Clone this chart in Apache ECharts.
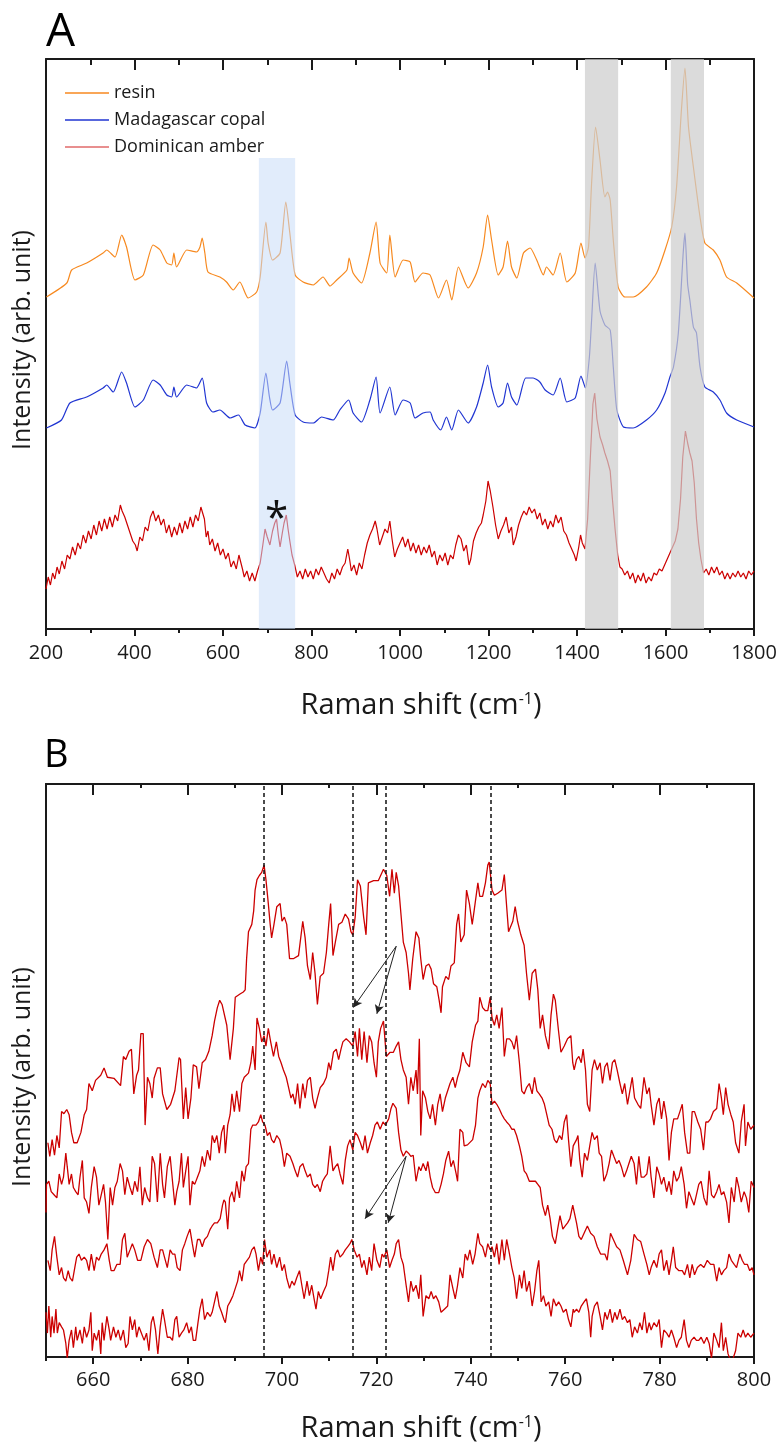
<!DOCTYPE html>
<html>
<head>
<meta charset="utf-8">
<script src="https://cdn.jsdelivr.net/npm/echarts@6/dist/echarts.min.js"></script>
<style>
  html, body { margin: 0; padding: 0; background: #fff; }
  #chart { width: 782px; height: 1443px; }
</style>
</head>
<body>
<div id="chart"></div>
<script>
// ---- panel A : [Raman shift (cm-1), intensity (arb. unit, offset)]
var resin = [[201,332],[247,346],[258,359],[292,366],[329,376],[337,379],[356,372],[371,394],[382,382],[401,349],[420,354],[442,384],[458,379],[473,366],[484,364],[489,376],[495,362],[518,379],[540,377],[548,382],[553,391],[559,376],[566,357],[593,352],[608,347],[623,339],[638,347],[657,331],[676,337],[684,352],[697,407],[702,386],[712,369],[729,376],[742,427],[751,396],[763,354],[781,347],[804,344],[826,352],[842,343],[857,349],[880,359],[885,371],[894,356],[913,346],[932,376],[946,407],[955,366],[970,356],[977,394],[989,352],[1007,369],[1023,367],[1034,347],[1052,356],[1068,354],[1087,331],[1105,349],[1117,329],[1132,362],[1154,341],[1173,356],[1188,382],[1198,414],[1207,389],[1222,354],[1233,362],[1243,388],[1252,362],[1264,351],[1279,376],[1294,381],[1309,369],[1324,354],[1331,362],[1346,354],[1362,376],[1377,347],[1396,356],[1409,386],[1418,371],[1426,382],[1433,446],[1442,502],[1452,469],[1463,432],[1469,437],[1475,429],[1482,389],[1493,342],[1508,332],[1527,332],[1557,342],[1580,356],[1599,379],[1614,402],[1625,442],[1636,519],[1644,561],[1652,502],[1663,462],[1678,412],[1689,386],[1708,379],[1723,369],[1738,352],[1761,346],[1800,331]];
var copal = [[201,201],[235,209],[254,226],[292,232],[329,241],[337,244],[352,237],[371,257],[382,246],[401,222],[420,229],[442,249],[458,244],[473,234],[484,232],[489,242],[495,232],[518,244],[540,241],[553,251],[563,226],[577,217],[593,219],[616,211],[635,214],[650,204],[672,201],[684,216],[697,256],[705,232],[712,219],[729,226],[744,268],[751,246],[763,214],[781,207],[804,206],[823,212],[849,209],[864,219],[884,229],[894,216],[913,207],[932,229],[946,252],[955,216],[977,242],[989,214],[1007,229],[1023,226],[1034,211],[1052,216],[1068,217],[1075,209],[1092,199],[1105,212],[1117,199],[1132,219],[1154,206],[1173,222],[1188,246],[1198,264],[1207,242],[1222,222],[1233,226],[1243,246],[1252,232],[1264,224],[1284,251],[1301,251],[1316,247],[1328,239],[1346,234],[1362,251],[1377,227],[1396,231],[1409,253],[1419,241],[1428,272],[1433,309],[1441,366],[1452,318],[1463,304],[1475,299],[1482,262],[1490,219],[1505,202],[1527,201],[1557,209],[1580,219],[1599,236],[1610,252],[1618,262],[1629,296],[1640,376],[1644,396],[1650,345],[1655,329],[1663,302],[1670,296],[1678,262],[1689,242],[1708,237],[1723,229],[1738,216],[1761,209],[1800,202]];
var amber = [[200,40],[205,52],[210,44],[215,56],[220,50],[225,62],[230,55],[236,68],[242,60],[248,74],[254,70],[260,82],[266,74],[272,86],[278,80],[284,94],[290,86],[296,98],[302,90],[308,104],[314,94],[320,108],[326,98],[332,110],[338,100],[344,112],[350,102],[356,114],[362,108],[368,124],[372,118],[378,112],[384,104],[390,96],[396,88],[402,84],[406,78],[412,92],[418,88],[424,102],[430,98],[436,112],[442,118],[448,108],[454,114],[460,104],[466,110],[472,96],[478,104],[484,92],[490,102],[496,94],[502,106],[508,96],[514,108],[520,100],[526,112],[532,102],[538,114],[544,108],[550,122],[554,124],[558,110],[562,92],[566,98],[570,84],[576,90],[582,78],[588,86],[594,74],[600,80],[606,70],[612,76],[618,62],[624,68],[630,60],[636,74],[640,76],[644,60],[648,52],[654,58],[660,48],[666,56],[672,48],[678,58],[684,66],[690,84],[695,100],[700,92],[706,84],[712,98],[717,106],[721,110],[725,94],[729,82],[734,96],[738,106],[743,114],[747,100],[751,88],[756,74],[762,64],[768,52],[774,58],[780,50],[786,60],[792,52],[798,58],[804,50],[810,60],[816,54],[822,62],[828,56],[834,50],[840,46],[846,56],[852,50],[858,60],[864,54],[870,62],[876,66],[882,80],[886,70],[890,58],[896,64],[902,54],[908,66],[914,60],[920,74],[926,86],[932,94],[938,100],[944,108],[948,100],[954,84],[960,92],[966,100],[972,96],[977,108],[982,90],[988,72],[994,80],[1000,86],[1006,92],[1012,82],[1018,90],[1024,78],[1030,86],[1036,76],[1042,84],[1048,74],[1054,82],[1060,76],[1066,84],[1072,72],[1078,78],[1084,64],[1090,74],[1096,68],[1102,76],[1108,64],[1114,74],[1120,70],[1126,84],[1132,94],[1138,90],[1144,78],[1150,84],[1156,64],[1160,70],[1166,88],[1172,96],[1178,102],[1184,106],[1188,114],[1194,128],[1199,148],[1204,138],[1210,122],[1216,104],[1222,90],[1228,98],[1234,104],[1240,112],[1246,96],[1252,102],[1256,84],[1262,92],[1268,104],[1274,112],[1280,118],[1286,114],[1292,122],[1298,116],[1304,120],[1310,110],[1316,116],[1322,104],[1328,110],[1334,100],[1340,108],[1346,102],[1352,114],[1358,106],[1364,112],[1370,98],[1376,94],[1382,86],[1388,80],[1394,74],[1398,68],[1404,82],[1408,94],[1412,86],[1418,80],[1424,110],[1430,170],[1436,225],[1440,236],[1445,210],[1452,192],[1458,184],[1463,176],[1469,168],[1475,158],[1480,130],[1486,100],[1492,74],[1497,62],[1502,60],[1508,54],[1514,58],[1520,50],[1526,56],[1532,46],[1538,54],[1544,48],[1550,56],[1556,46],[1562,52],[1568,48],[1574,56],[1580,54],[1586,60],[1592,58],[1598,64],[1604,70],[1610,76],[1616,82],[1622,88],[1628,100],[1634,130],[1639,172],[1645,198],[1650,186],[1655,176],[1660,168],[1665,146],[1670,110],[1675,86],[1680,70],[1686,56],[1692,60],[1698,54],[1704,62],[1710,56],[1716,62],[1722,54],[1728,58],[1734,50],[1740,56],[1746,50],[1752,56],[1758,52],[1764,58],[1770,52],[1776,56],[1782,50],[1788,58],[1794,54],[1800,58]];

// ---- panel B : Dominican amber, four spectra, 650-800 cm-1
var spot1 = [[650.4,227],[650.8,214],[651.3,230],[651.8,215],[652.3,234],[652.8,222],[653.3,257],[653.8,255],[654.4,259],[654.9,254],[655.4,237],[655.9,227],[656.6,227],[657.4,237],[658.1,254],[658.6,259],[659.1,284],[659.8,277],[660.5,287],[661.6,292],[662.3,299],[663.0,290],[664.4,289],[665.8,282],[666.4,310],[666.9,307],[667.6,315],[668.1,317],[668.6,274],[669.2,292],[669.6,297],[670.1,332],[670.6,332],[671.0,244],[671.5,290],[672.0,284],[672.5,270],[672.9,289],[673.6,299],[674.2,299],[674.7,274],[675.6,259],[676.4,264],[677.3,277],[678.2,309],[678.5,307],[679.1,250],[679.6,280],[680.1,250],[680.7,270],[681.2,302],[681.9,300],[682.4,279],[683.1,304],[683.8,307],[684.5,315],[685.2,330],[685.7,344],[686.3,357],[686.8,364],[687.3,360],[687.6,360],[688.3,340],[689.0,307],[689.7,337],[690.1,367],[691.1,370],[691.8,372],[692.2,374],[692.5,404],[692.9,430],[693.6,437],[694.0,450],[694.3,470],[694.7,480],[695.2,484],[695.7,487],[696.2,494],[696.6,480],[697.1,457],[697.5,437],[697.8,424],[698.3,437],[698.9,454],[699.6,457],[700.0,440],[700.5,444],[701.0,437],[701.6,404],[702.4,404],[703.5,407],[704.4,440],[704.9,424],[705.4,397],[706.0,384],[706.5,410],[707.0,390],[707.5,360],[708.1,387],[708.8,390],[709.4,410],[709.9,437],[710.3,457],[710.8,407],[711.3,420],[712.0,437],[712.7,439],[713.4,447],[714.1,442],[714.6,430],[715.0,427],[715.5,444],[716.0,480],[716.6,474],[717.3,444],[717.8,427],[718.3,477],[719.4,479],[720.4,479],[721.5,490],[722.2,484],[722.8,464],[723.3,490],[723.8,467],[724.2,487],[724.7,474],[725.2,447],[725.7,420],[726.3,410],[726.8,390],[727.1,374],[727.7,404],[728.4,430],[729.0,424],[729.4,404],[729.9,384],[730.5,397],[731.1,399],[731.6,394],[732.1,380],[732.8,377],[733.3,364],[733.7,352],[734.0,377],[734.7,387],[735.3,384],[735.8,397],[736.5,400],[737.0,437],[737.4,447],[737.9,420],[738.6,427],[739.1,470],[739.7,457],[740.3,437],[740.7,450],[741.5,477],[741.9,464],[742.5,464],[743.1,477],[743.6,494],[743.9,497],[744.5,470],[745.0,465],[745.7,467],[746.6,470],[747.1,485],[747.6,454],[748.0,430],[748.9,440],[749.4,454],[749.9,440],[750.6,427],[751.3,417],[751.8,390],[752.4,364],[753.0,390],[753.7,394],[754.2,374],[754.7,337],[755.2,350],[755.8,330],[756.5,317],[757.0,350],[757.5,370],[757.9,364],[758.6,334],[759.1,314],[759.8,320],[760.5,327],[761.2,330],[761.6,304],[761.9,297],[762.4,307],[762.9,310],[763.4,304],[763.8,317],[764.3,297],[764.7,264],[765.2,257],[765.7,297],[766.2,307],[766.8,297],[767.4,304],[767.9,284],[768.4,300],[768.9,304],[769.5,287],[770.0,304],[770.5,307],[771.0,297],[771.6,284],[772.1,274],[772.6,284],[773.2,264],[773.7,277],[774.2,290],[774.7,270],[775.4,264],[776.0,260],[776.7,290],[777.3,274],[777.8,280],[778.2,264],[778.8,244],[779.4,264],[779.9,270],[780.4,250],[780.9,267],[781.5,250],[782.0,210],[782.5,237],[783.0,250],[783.8,250],[784.3,257],[784.8,264],[785.3,237],[785.9,217],[786.4,217],[786.9,257],[787.4,257],[788.1,247],[788.7,240],[789.3,220],[789.8,247],[790.3,247],[790.8,250],[791.4,257],[792.1,260],[792.6,284],[793.1,270],[793.5,254],[794.0,280],[794.5,264],[795.1,254],[795.6,247],[796.1,227],[796.8,217],[797.3,247],[797.9,264],[798.2,224],[798.7,247],[799.3,240],[800.0,244]];
var spot2 = [[650.0,160],[650.1,187],[650.6,190],[651.1,180],[651.7,177],[652.3,174],[652.8,197],[653.3,187],[653.7,194],[654.2,217],[654.5,204],[654.9,187],[655.4,197],[655.8,184],[656.3,180],[656.8,177],[657.2,194],[657.7,210],[658.1,174],[658.6,170],[659.1,159],[659.6,184],[660.2,204],[660.7,194],[661.2,167],[661.7,177],[662.2,187],[662.6,170],[663.1,134],[663.6,184],[664.1,167],[664.6,184],[665.1,190],[665.7,207],[666.2,200],[666.7,177],[667.2,194],[667.8,184],[668.3,177],[668.8,190],[669.4,180],[669.9,204],[670.4,167],[670.9,184],[671.5,174],[672.0,170],[672.5,214],[673.0,207],[673.6,170],[674.2,217],[674.7,187],[675.1,174],[675.7,204],[676.3,214],[676.8,190],[677.3,167],[677.7,180],[678.2,190],[678.7,217],[679.1,184],[679.6,200],[680.1,214],[680.5,167],[681.0,190],[681.5,187],[682.1,194],[682.6,200],[683.1,214],[683.6,204],[684.2,220],[684.8,210],[685.2,234],[685.7,227],[686.2,234],[686.7,217],[687.2,237],[687.7,244],[688.0,217],[688.5,244],[689.0,254],[689.4,274],[689.9,257],[690.4,277],[691.0,257],[691.5,284],[692.0,290],[692.9,294],[693.4,304],[693.8,320],[694.3,297],[694.7,347],[695.2,337],[695.7,324],[696.2,330],[696.6,320],[697.1,337],[697.6,324],[698.2,310],[698.8,324],[699.3,310],[699.8,304],[700.3,297],[700.9,290],[701.4,280],[701.9,270],[702.3,274],[702.8,264],[703.3,284],[703.8,260],[704.4,284],[704.9,270],[705.4,287],[706.0,290],[706.5,270],[707.0,260],[707.5,270],[708.1,280],[708.8,284],[709.4,290],[709.9,304],[710.3,297],[710.9,314],[711.5,317],[712.0,307],[712.5,317],[712.9,324],[713.6,327],[714.3,324],[715.0,320],[715.5,334],[716.0,310],[716.4,337],[716.9,307],[717.4,334],[718.0,304],[718.5,330],[719.0,324],[719.5,304],[720.0,290],[720.4,324],[720.9,337],[721.5,344],[722.1,310],[722.9,314],[723.6,314],[724.2,320],[724.7,324],[725.2,307],[725.7,297],[726.3,290],[726.8,264],[727.3,290],[727.8,277],[728.4,297],[728.7,274],[729.1,327],[729.4,234],[729.8,277],[730.4,270],[730.9,257],[731.4,250],[731.9,264],[732.5,244],[733.0,264],[733.5,274],[734.0,257],[734.6,270],[735.1,277],[735.6,284],[736.2,290],[736.7,280],[737.2,290],[737.7,297],[738.3,314],[739.0,304],[739.7,300],[740.3,324],[741.0,340],[741.5,344],[741.9,367],[742.5,357],[743.1,354],[743.6,354],[744.1,367],[744.5,347],[745.0,340],[745.5,350],[746.0,337],[746.6,357],[747.1,310],[747.6,327],[748.2,327],[748.7,324],[749.2,317],[749.7,330],[750.3,304],[750.8,277],[751.3,274],[751.8,280],[752.4,284],[753.0,274],[753.5,290],[754.0,277],[754.5,274],[755.1,270],[755.6,264],[756.1,254],[756.6,244],[757.2,240],[757.7,230],[758.2,227],[758.8,234],[759.3,230],[759.8,247],[760.3,254],[760.7,230],[761.2,204],[761.7,224],[762.4,230],[762.7,234],[763.1,210],[763.6,194],[764.1,217],[764.7,210],[765.2,224],[765.7,237],[766.2,230],[766.8,234],[767.2,217],[767.7,214],[768.2,190],[768.8,197],[769.3,207],[769.8,220],[770.3,214],[770.9,207],[771.4,210],[771.9,204],[772.5,194],[773.0,200],[773.5,207],[774.0,214],[774.6,207],[775.1,187],[775.6,214],[776.1,194],[776.7,194],[777.3,197],[777.8,214],[778.2,194],[778.8,174],[779.4,204],[779.9,197],[780.4,187],[780.9,194],[781.5,180],[782.0,190],[782.5,177],[783.0,200],[783.6,190],[784.1,194],[784.6,204],[785.2,187],[785.7,164],[786.2,180],[786.7,174],[787.3,167],[787.8,177],[788.3,187],[788.8,190],[789.4,174],[790.0,167],[790.5,200],[791.0,177],[791.5,174],[792.1,180],[792.6,187],[793.1,177],[793.6,180],[794.2,170],[794.7,150],[795.2,184],[795.8,170],[796.3,194],[796.8,184],[797.3,170],[797.9,180],[798.4,174],[798.9,160],[799.4,190],[800.0,184]];
var spot3 = [[650.4,114],[650.9,104],[651.3,124],[651.8,137],[652.3,117],[652.8,100],[653.3,107],[653.7,97],[654.2,94],[654.7,104],[655.1,97],[655.6,94],[656.1,107],[656.5,117],[657.0,120],[657.5,114],[658.1,117],[658.6,114],[659.1,104],[659.6,120],[660.2,104],[660.7,117],[661.2,114],[661.7,120],[662.3,124],[662.9,130],[663.4,114],[663.8,104],[664.4,104],[665.0,110],[665.7,110],[666.2,134],[666.7,140],[667.2,117],[667.8,124],[668.3,130],[668.8,124],[669.4,114],[670.1,114],[670.8,127],[671.5,134],[672.2,130],[672.9,117],[673.6,107],[674.2,124],[674.7,124],[675.1,117],[675.7,107],[676.3,124],[676.8,120],[677.3,120],[677.8,107],[678.4,104],[678.9,124],[679.4,130],[679.9,137],[680.5,144],[681.0,130],[681.5,117],[682.1,134],[682.6,134],[683.1,127],[683.6,134],[684.2,137],[684.8,144],[685.2,147],[685.7,150],[686.3,150],[686.9,154],[687.4,167],[687.7,172],[688.0,170],[688.5,144],[688.9,174],[689.4,180],[689.9,170],[690.4,190],[691.0,174],[691.5,200],[692.0,190],[692.4,204],[692.9,207],[693.4,240],[693.8,244],[694.5,244],[695.0,247],[695.5,254],[695.9,247],[696.4,244],[696.9,234],[697.4,237],[697.8,230],[698.3,227],[698.9,234],[699.5,230],[700.0,220],[700.5,204],[701.0,217],[701.7,214],[702.3,207],[702.8,200],[703.3,194],[703.8,204],[704.4,207],[704.9,200],[705.4,194],[706.0,197],[706.5,187],[707.0,184],[707.5,187],[708.1,180],[708.6,190],[709.1,194],[709.6,197],[710.2,224],[710.8,200],[711.3,204],[711.8,207],[712.3,197],[712.9,187],[713.4,210],[713.9,224],[714.4,230],[715.0,220],[715.5,237],[716.0,234],[716.6,227],[717.1,220],[717.6,234],[718.1,217],[718.7,227],[719.2,234],[719.7,244],[720.2,247],[720.8,240],[721.4,247],[721.9,244],[722.6,250],[723.1,260],[723.5,265],[724.2,260],[724.7,237],[725.2,220],[725.7,214],[726.3,219],[726.8,217],[727.3,214],[727.8,215],[728.4,190],[729.0,204],[729.4,200],[729.9,207],[730.5,200],[730.9,209],[731.4,194],[731.9,184],[732.5,179],[733.2,179],[733.7,187],[734.2,197],[734.7,210],[735.3,219],[735.8,204],[736.3,210],[736.9,197],[737.2,190],[737.7,240],[738.3,237],[738.6,224],[739.3,225],[740.4,230],[741.0,244],[741.5,270],[741.9,277],[742.5,284],[743.1,280],[743.6,287],[744.1,284],[744.5,264],[745.0,267],[745.5,264],[746.0,260],[746.6,254],[747.1,250],[747.6,247],[748.2,244],[748.7,240],[749.2,240],[749.7,234],[750.3,224],[750.8,214],[751.3,200],[751.8,197],[752.4,190],[753.1,190],[753.7,190],[754.2,187],[754.7,184],[755.2,167],[755.8,157],[756.3,167],[756.8,154],[757.3,137],[757.9,130],[758.4,144],[758.9,157],[759.5,144],[760.0,147],[760.5,150],[761.0,154],[761.6,167],[762.4,150],[762.9,137],[763.4,134],[764.0,140],[764.7,147],[765.4,140],[766.1,137],[766.8,127],[767.5,120],[768.4,120],[768.9,114],[769.6,140],[770.2,134],[770.9,127],[771.6,124],[772.3,114],[773.2,100],[773.9,114],[774.6,139],[775.3,134],[776.0,132],[776.7,120],[777.3,110],[777.8,100],[778.2,107],[778.8,114],[779.4,107],[779.9,120],[780.4,124],[780.9,104],[781.5,114],[782.0,100],[782.5,114],[782.9,127],[783.4,107],[784.1,104],[784.8,104],[785.3,100],[785.9,110],[786.4,97],[786.9,110],[787.4,100],[788.0,107],[788.7,110],[789.4,107],[790.1,114],[790.8,110],[791.5,110],[792.1,94],[792.6,107],[793.1,100],[793.6,104],[794.2,107],[794.7,120],[795.2,114],[795.8,110],[796.3,107],[797.0,120],[797.5,114],[798.0,110],[798.6,110],[799.1,104],[799.6,107],[800.0,100]];
var spot4 = [[650.0,64],[650.3,44],[650.6,70],[651.0,40],[651.3,60],[651.7,44],[652.1,67],[652.4,44],[652.8,54],[653.3,50],[653.7,47],[654.2,34],[654.5,20],[654.9,37],[655.4,47],[655.8,30],[656.3,50],[656.6,37],[657.2,47],[657.7,34],[658.1,50],[658.6,40],[659.1,47],[659.5,64],[659.8,27],[660.2,44],[660.7,37],[661.2,47],[661.6,24],[661.9,54],[662.3,37],[662.9,60],[663.4,47],[663.7,37],[664.3,50],[664.8,40],[665.3,47],[665.8,37],[666.4,47],[666.9,30],[667.4,34],[667.8,60],[668.3,47],[668.8,57],[669.2,40],[669.7,50],[670.2,44],[670.8,37],[671.3,44],[671.8,27],[672.3,54],[672.7,60],[673.2,47],[673.7,24],[674.2,50],[674.7,67],[675.1,57],[675.7,40],[676.3,40],[676.8,37],[677.3,57],[677.7,60],[678.2,40],[678.7,44],[679.2,47],[679.8,54],[680.3,44],[680.8,50],[681.2,37],[681.7,37],[682.2,54],[682.6,67],[683.1,77],[683.6,57],[684.2,64],[684.8,60],[685.2,64],[685.7,74],[686.2,84],[686.7,70],[687.2,64],[687.7,57],[688.0,54],[688.5,70],[689.0,74],[689.6,80],[690.1,87],[690.6,94],[691.0,104],[691.5,94],[692.0,110],[692.6,114],[693.1,117],[693.6,124],[694.1,127],[694.5,120],[695.0,104],[695.5,117],[695.9,110],[696.3,134],[696.8,117],[697.4,124],[697.8,110],[698.3,120],[698.9,107],[699.5,117],[700.0,104],[700.5,110],[701.0,97],[701.6,87],[702.1,94],[702.6,90],[703.1,97],[703.7,104],[704.2,90],[704.7,77],[705.3,94],[705.8,80],[706.3,90],[706.8,77],[707.2,67],[707.7,84],[708.2,77],[708.8,84],[709.4,90],[709.9,104],[710.3,117],[710.8,104],[711.3,120],[711.8,124],[712.3,117],[712.9,120],[713.4,124],[713.9,127],[714.4,130],[714.8,134],[715.3,124],[715.9,117],[716.4,120],[716.9,107],[717.4,114],[718.0,100],[718.5,117],[719.0,104],[719.5,130],[720.1,114],[720.7,107],[721.2,120],[721.6,117],[722.2,124],[722.8,107],[723.3,114],[723.8,120],[724.2,130],[724.7,134],[725.2,117],[725.7,110],[726.3,90],[726.8,74],[727.3,94],[727.8,84],[728.4,90],[729.0,77],[729.4,100],[729.9,60],[730.5,80],[731.1,77],[731.6,84],[732.1,77],[732.6,80],[733.2,74],[733.7,64],[734.4,67],[735.1,70],[735.6,100],[736.2,87],[736.7,77],[737.2,90],[737.7,107],[738.3,97],[738.8,120],[739.3,114],[739.8,124],[740.4,110],[740.9,120],[741.5,140],[741.9,130],[742.5,127],[743.1,117],[743.6,130],[744.1,124],[744.5,127],[745.0,117],[745.5,130],[746.0,110],[746.6,134],[747.1,114],[747.6,134],[748.2,120],[748.7,107],[749.2,97],[749.7,77],[750.3,100],[750.8,87],[751.3,104],[751.8,84],[752.4,94],[753.0,70],[753.5,84],[754.0,104],[754.4,114],[754.9,74],[755.4,80],[755.9,70],[756.5,74],[757.0,60],[757.5,77],[758.1,70],[758.6,74],[759.1,70],[759.6,64],[760.2,67],[760.7,57],[761.2,50],[761.7,67],[761.9,64],[762.4,67],[762.9,64],[763.4,70],[764.0,74],[764.5,77],[765.0,64],[765.4,40],[765.7,60],[766.2,70],[766.8,74],[767.4,60],[767.9,47],[768.4,64],[768.9,57],[769.5,67],[770.0,54],[770.5,64],[771.0,57],[771.6,67],[772.1,57],[772.6,60],[773.2,54],[773.7,57],[774.2,40],[774.7,50],[775.3,44],[775.8,54],[776.3,47],[776.8,64],[777.3,44],[777.8,54],[778.2,47],[778.8,54],[779.4,50],[779.9,57],[780.4,30],[780.9,47],[781.5,44],[782.0,40],[782.5,47],[783.0,40],[783.6,30],[784.1,37],[784.6,40],[785.2,57],[785.7,37],[786.2,30],[786.7,37],[787.3,40],[787.8,37],[788.3,37],[788.8,40],[789.4,34],[790.0,40],[790.5,34],[791.0,20],[791.5,44],[792.1,37],[792.6,30],[793.1,54],[793.5,27],[794.0,40],[794.5,24],[795.1,17],[795.6,20],[796.1,27],[796.6,44],[797.2,40],[797.7,47],[798.2,40],[798.7,44],[799.3,40],[800.0,44]];

// shaded ranges, peak positions, arrows (cm-1 / intensity)
var bandBlue = [681, 763, 471];          // from, to, top
var bandsGrey = [[1418, 1493], [1612, 1687]];
var starAt = [721, 122];
var peakLines = [696.2, 715, 722, 744.2];
var arrowsB = [
  [[724.2, 416], [715.1, 357]], [[724.2, 416], [720.1, 351]],
  [[726.3, 214], [717.6, 154]], [[726.3, 214], [722.5, 150]]
];
var ticksBMajor = [660, 680, 700, 720, 740, 760, 780, 800];
var ticksBMinor = [650, 670, 690, 710, 730, 750, 770, 790];

var FONT = 'Open Sans';
var INK = '#1a1a1a';
var ORANGE = '#f7891f', BLUE = '#2035d2', RED = '#cc0000';

var chart = echarts.init(document.getElementById('chart'), null, { renderer: 'canvas' });

function axLine() { return { show: true, onZero: false, lineStyle: { color: INK, width: 2 } }; }
function plain(v) { return String(v); }

function xAxisA(pos) {
  var top = pos === 'top';
  return {
    type: 'value', gridIndex: 0, position: pos, min: 200, max: 1800, interval: 200,
    axisLine: axLine(),
    axisTick: { show: true, inside: top, length: top ? 11 : 7, lineStyle: { color: INK, width: 2 } },
    minorTick: { show: true, splitNumber: 2, length: top ? 6 : 4, lineStyle: { color: INK, width: 2 } },
    axisLabel: { show: !top, formatter: plain, fontFamily: FONT, fontSize: 20, color: INK, margin: 14 },
    splitLine: { show: false }, minorSplitLine: { show: false }
  };
}
function xAxisB(pos, vals, len, labels) {
  return {
    type: 'value', gridIndex: 1, position: pos, min: 650, max: 800,
    axisLine: axLine(),
    axisTick: { show: true, inside: pos === 'top', length: len, customValues: vals, lineStyle: { color: INK, width: 2 } },
    axisLabel: { show: labels, customValues: vals, formatter: plain, fontFamily: FONT, fontSize: 20, color: INK, margin: 13 },
    splitLine: { show: false }
  };
}
function yAxis(grid, pos, max, min) {
  return {
    type: 'value', gridIndex: grid, position: pos, min: min || 0, max: max,
    axisLine: axLine(), axisTick: { show: false }, axisLabel: { show: false }, splitLine: { show: false }
  };
}
function spectrum(name, data, color, xi, yi, w, smooth) {
  return {
    name: name, type: 'line', data: data, xAxisIndex: xi, yAxisIndex: yi,
    showSymbol: false, symbol: 'none', smooth: smooth || false, animation: false, z: 2,
    lineStyle: { color: color, width: w }, itemStyle: { color: color }
  };
}

var option = {
  animation: false,
  backgroundColor: '#fff',
  textStyle: { fontFamily: FONT },
  grid: [
    { left: 46, top: 59, width: 708, height: 570 },
    { left: 46, top: 784, width: 708, height: 573 }
  ],
  xAxis: [
    xAxisA('bottom'), xAxisA('top'),
    xAxisB('bottom', ticksBMajor, 7, true), xAxisB('bottom', ticksBMinor, 4, false),
    xAxisB('top', ticksBMajor, 11, false), xAxisB('top', ticksBMinor, 4, false)
  ],
  yAxis: [
    yAxis(0, 'left', 570), yAxis(0, 'right', 570),
    yAxis(1, 'left', 572, 21), yAxis(1, 'right', 572, 21)
  ],
  legend: {
    orient: 'vertical', left: 60, top: 79, itemWidth: 44, itemHeight: 1.5, itemGap: 9,
    icon: 'rect', selectedMode: false,
    textStyle: { fontFamily: FONT, fontSize: 18, color: INK, padding: [0, 0, 0, 0] },
    data: [
      { name: 'resin', itemStyle: { color: ORANGE } },
      { name: 'Madagascar copal', itemStyle: { color: BLUE } },
      { name: 'Dominican amber', itemStyle: { color: '#e06a6a' } }
    ]
  },
  series: [
    spectrum('resin', resin, ORANGE, 0, 0, 1.2, 0.2),
    spectrum('Madagascar copal', copal, BLUE, 0, 0, 1.2, 0.2),
    spectrum('Dominican amber', amber, RED, 0, 0, 1.2),
    {
      type: 'line', data: [], xAxisIndex: 0, yAxisIndex: 0, silent: true,
      markArea: {
        silent: true, z: 10,
        data: [
          [{ coord: [bandBlue[0], 0], itemStyle: { color: 'rgba(200,220,248,0.55)' } }, { coord: [bandBlue[1], bandBlue[2]] }]
        ].concat(bandsGrey.map(function (b) {
          return [{ xAxis: b[0], itemStyle: { color: 'rgba(205,205,205,0.72)' } }, { xAxis: b[1] }];
        }))
      },
      markPoint: {
        silent: true, z: 12, symbol: 'rect', symbolSize: 1, itemStyle: { color: 'rgba(0,0,0,0)' },
        label: { show: true, position: 'inside', formatter: '*', fontFamily: FONT, fontSize: 42, color: '#111', offset: [0, 13] },
        data: [{ coord: starAt }]
      }
    },
    spectrum('spot 1', spot1, RED, 2, 2, 1.3),
    spectrum('spot 2', spot2, RED, 2, 2, 1.3),
    spectrum('spot 3', spot3, RED, 2, 2, 1.3),
    spectrum('spot 4', spot4, RED, 2, 2, 1.3),
    {
      type: 'line', data: [], xAxisIndex: 2, yAxisIndex: 2, silent: true,
      markLine: {
        silent: true, z: 3, symbol: ['none', 'none'], animation: false,
        label: { show: false },
        lineStyle: { color: '#111', width: 1.5, type: [4, 3] },
        data: peakLines.map(function (x) { return { xAxis: x }; })
      }
    },
    {
      type: 'line', data: [], xAxisIndex: 2, yAxisIndex: 2, silent: true,
      markLine: {
        silent: true, z: 6, symbol: ['none', 'arrow'], symbolSize: [7, 9], animation: false,
        label: { show: false },
        lineStyle: { color: '#222', width: 1, type: 'solid' },
        data: arrowsB.map(function (a) { return [{ coord: a[0] }, { coord: a[1] }]; })
      }
    }
  ],
  graphic: [
    { type: 'text', left: 46, top: 10, style: { text: 'A', fontFamily: FONT, fontSize: 46, fill: '#000' } },
    { type: 'text', left: 44, top: 737, style: { text: 'B', fontFamily: FONT, fontSize: 38, fill: '#000' } },
    { type: 'text', x: 23, y: 340, rotation: Math.PI / 2,
      style: { text: 'Intensity (arb. unit)', fontFamily: FONT, fontSize: 25, fill: INK, align: 'center', verticalAlign: 'middle' } },
    { type: 'text', x: 23, y: 1077, rotation: Math.PI / 2,
      style: { text: 'Intensity (arb. unit)', fontFamily: FONT, fontSize: 25, fill: INK, align: 'center', verticalAlign: 'middle' } },
    { type: 'text', x: 421, y: 706,
      style: { text: 'Raman shift (cm{sup|-1})', fontFamily: FONT, fontSize: 29, fill: INK, align: 'center', verticalAlign: 'middle',
        rich: { sup: { fontFamily: FONT, fontSize: 16, fill: INK, verticalAlign: 'top' } } } },
    { type: 'text', x: 421, y: 1429,
      style: { text: 'Raman shift (cm{sup|-1})', fontFamily: FONT, fontSize: 29, fill: INK, align: 'center', verticalAlign: 'middle',
        rich: { sup: { fontFamily: FONT, fontSize: 16, fill: INK, verticalAlign: 'top' } } } }
  ]
};

chart.setOption(option);
</script>
</body>
</html>
